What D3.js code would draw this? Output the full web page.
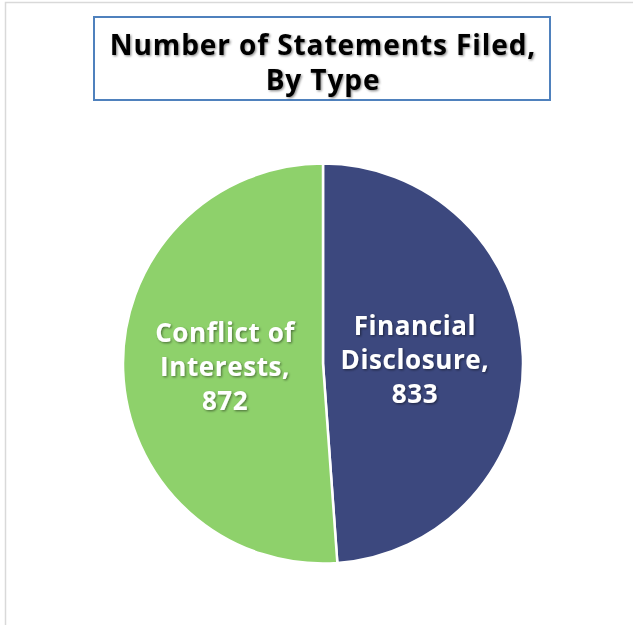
<!DOCTYPE html>
<html><head><meta charset="utf-8">
<script src="https://cdn.jsdelivr.net/npm/d3@7"></script>
<style>
html,body{margin:0;padding:0;background:#fff;}
text{font-family:"Open Sans",Lato,sans-serif;font-weight:bold;}
</style></head>
<body>
<svg id="chart" width="633" height="625"></svg>
<script>
const categories = ["Financial Disclosure", "Conflict of Interests"];
const values = [833, 872];
const labelLines = [["Financial", "Disclosure,", "833"], ["Conflict of", "Interests,", "872"]];
const colors = ["#3C487E", "#8ED16B"];
const titleLines = ["Number of Statements Filed,", "By Type"];

const svg = d3.select("#chart");
const defs = svg.append("defs");
const f = defs.append("filter").attr("id","shadow").attr("x","-10%").attr("y","-10%").attr("width","130%").attr("height","140%");
f.append("feDropShadow").attr("dx",1.2).attr("dy",1.2).attr("stdDeviation",1).attr("flood-color","#000").attr("flood-opacity",0.45);

// outer frame
svg.append("rect").attr("x",5.5).attr("y",2.5).attr("width",640).attr("height",640)
  .attr("fill","none").attr("stroke","#d9d9d9").attr("stroke-width",1.5);

// title box
svg.append("rect").attr("x",94).attr("y",17).attr("width",456).attr("height",83)
  .attr("fill","#fff").attr("stroke","#4F81BD").attr("stroke-width",2);
svg.append("g").attr("filter","url(#shadow)").selectAll("text").data(titleLines).join("text")
  .attr("x",323).attr("y",(d,i)=>55+i*35).attr("text-anchor","middle")
  .attr("font-size",28).attr("letter-spacing",0.9).attr("fill","#000").text(d=>d);

// pie
const cx = 323, cy = 363.5, r = 200;
const pie = d3.pie().sort(null).value(d=>d.v);
const data = pie(categories.map((c,i)=>({c, v: values[i], i})));
const arc = d3.arc().innerRadius(0).outerRadius(r);
const g = svg.append("g").attr("transform",`translate(${cx},${cy})`);
g.selectAll("path").data(data).join("path")
  .attr("d",arc).attr("fill",d=>colors[d.data.i]).attr("stroke","#fff").attr("stroke-width",2.5);

const labelArc = d3.arc().innerRadius(r*0.5).outerRadius(r*0.5);
const lg = g.append("g").attr("filter","url(#shadow)");
data.forEach(d=>{
  const [x,y] = labelArc.centroid(d);
  const lines = labelLines[d.data.i];
  lg.append("text").attr("text-anchor","middle").attr("font-size",26).attr("letter-spacing",0.6).attr("fill","#fff")
    .selectAll("tspan").data(lines).join("tspan")
    .attr("x",x - (d.data.i===0 ? 8 : -2)).attr("y",(t,j)=>y + (j-1)*34 + 9).text(t=>t);
});
</script>
</body></html>
